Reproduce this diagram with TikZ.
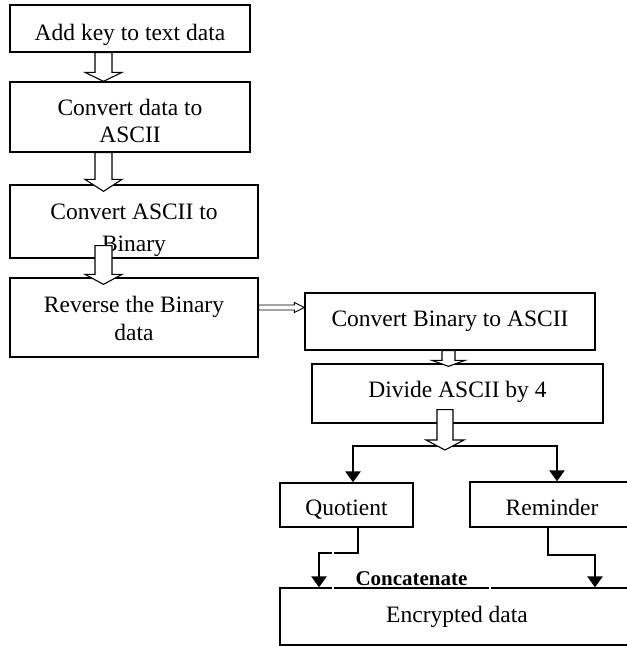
\documentclass[tikz,border=0pt]{standalone}
\usepackage{fontspec}
\setmainfont{Liberation Serif}
\usetikzlibrary{arrows.meta,calc}
\tikzset{
  box/.style={draw, line width=1.3pt, inner sep=0pt, align=center,
              font=\fontsize{23.5}{27}\selectfont},
  hollow/.style={draw, fill=white, line width=1.1pt, line join=miter},
  thinhollow/.style={draw, fill=white, line width=0.9pt, line join=miter},
  conn/.style={line width=2.5pt, line join=miter},
  arr/.style={-{Triangle[length=11pt,width=15pt]}},
  biarr/.style={{Triangle[length=11pt,width=15pt]}-{Triangle[length=11pt,width=15pt]}},
  lbl/.style={inner sep=0pt, font=\bfseries\fontsize{21}{24}\selectfont},
  gapline/.style={white, line width=1.8pt}
}
% hollow block arrow pointing down: start, tip, shaft half width, head half width, head length
\newcommand\hollowdown[6][hollow]{%
  \draw[#1] let \p1=(#2), \p2=(#3) in
    (\x2-#4pt,\y1) -- (\x2-#4pt,\y2+#6pt) -- (\x2-#5pt,\y2+#6pt) -- (\x2,\y2)
    -- (\x2+#5pt,\y2+#6pt) -- (\x2+#4pt,\y2+#6pt) -- (\x2+#4pt,\y1) -- cycle;}
% hollow block arrow pointing right
\newcommand\hollowright[6][thinhollow]{%
  \draw[#1] let \p1=(#2), \p2=(#3) in
    (\x1,\y2+#4pt) -- (\x2-#6pt,\y2+#4pt) -- (\x2-#6pt,\y2+#5pt) -- (\x2,\y2)
    -- (\x2-#6pt,\y2-#5pt) -- (\x2-#6pt,\y2-#4pt) -- (\x1,\y2-#4pt) -- cycle;}
\begin{document}
\begin{tikzpicture}[x=1pt,y=-1pt]
\useasboundingbox (0,0) rectangle (627,646);

% boxes
\node[box, minimum width=240pt, minimum height=47pt, text height=23pt, text depth=0pt]
  (b1) at (130,28.5) {Add key to text data};
\node[box, minimum width=240pt, minimum height=70pt, text height=50pt, text depth=0pt]
  (b2) at (130,117) {Convert data to\\ASCII};
\node[box, minimum width=248pt, minimum height=73pt, text height=59pt, text depth=0pt]
  (b3) at (134,221.5) {Convert ASCII to\\[5pt]Binary};
\node[box, minimum width=248pt, minimum height=79pt, text height=45pt, text depth=0pt]
  (b4) at (134,317.5) {Reverse the Binary\\[1pt]data};
\node[box, minimum width=290pt, minimum height=57pt]
  (b5) at (450,321.5) {Convert Binary to ASCII};
\node[box, minimum width=291pt, minimum height=59pt, text height=16pt, text depth=9pt]
  (b6) at (457.5,393.5) {Divide ASCII by 4};
\node[box, minimum width=133pt, minimum height=44pt, text height=20pt, text depth=0pt]
  (q) at (346.5,505) {Quotient};
\node[box, minimum width=164pt, minimum height=45pt, text height=21pt, text depth=0pt]
  (r) at (552,504.5) {Reminder};
\node[box, minimum width=354pt, minimum height=57pt, text height=16pt, text depth=5pt]
  (e) at (457,616.5) {Encrypted data};

% branch and join connectors
\coordinate (sl) at (353,446);
\coordinate (sr) at (557,446);
\coordinate (fork) at (445,450);
\draw[conn, biarr] (sl |- q.north) -- (sl) -- (sr) -- (sr |- r.north);

\coordinate (qx) at (358,553);
\coordinate (qy) at (319,553);
\draw[conn, arr] (qx |- q.south) -- (qx) -- (qy) -- (qy |- e.north);

\coordinate (rx) at (548,555);
\coordinate (ry) at (595,555);
\draw[conn, arr] (rx |- r.south) -- (rx) -- (ry) -- (ry |- e.north);

% hollow block arrows
\hollowdown{[xshift=-26.5pt]b1.south}{[xshift=-26.5pt]b2.north}{8.5}{18.5}{9}
\hollowdown{[xshift=-26.5pt]b2.south}{[xshift=-30.5pt,yshift=-7pt]b3.north}{8.5}{18.5}{12}
\hollowdown{[xshift=-30.5pt,yshift=13pt]b3.south}{[xshift=-30.5pt,yshift=-7pt]b4.north}{8.5}{18.5}{10}
\hollowdown{[xshift=-1.5pt]b5.south}{[xshift=-9pt,yshift=-3pt]b6.north}{6.5}{16.5}{6}
\hollowdown{[xshift=-12.5pt,yshift=14pt]b6.south}{fork}{8}{19}{10}
\hollowright{[yshift=10pt]b4.east}{[yshift=14pt]b5.west}{2.5}{5}{10}

% concatenate label
\node[lbl, minimum width=157pt, minimum height=47pt, text height=27pt, text depth=0pt]
  (lab) at (411.5,571.5) {Concatenate};
\draw[gapline] (lab.north west) -- (lab.south west)
               (lab.north east) -- (lab.south east);
\end{tikzpicture}
\end{document}
